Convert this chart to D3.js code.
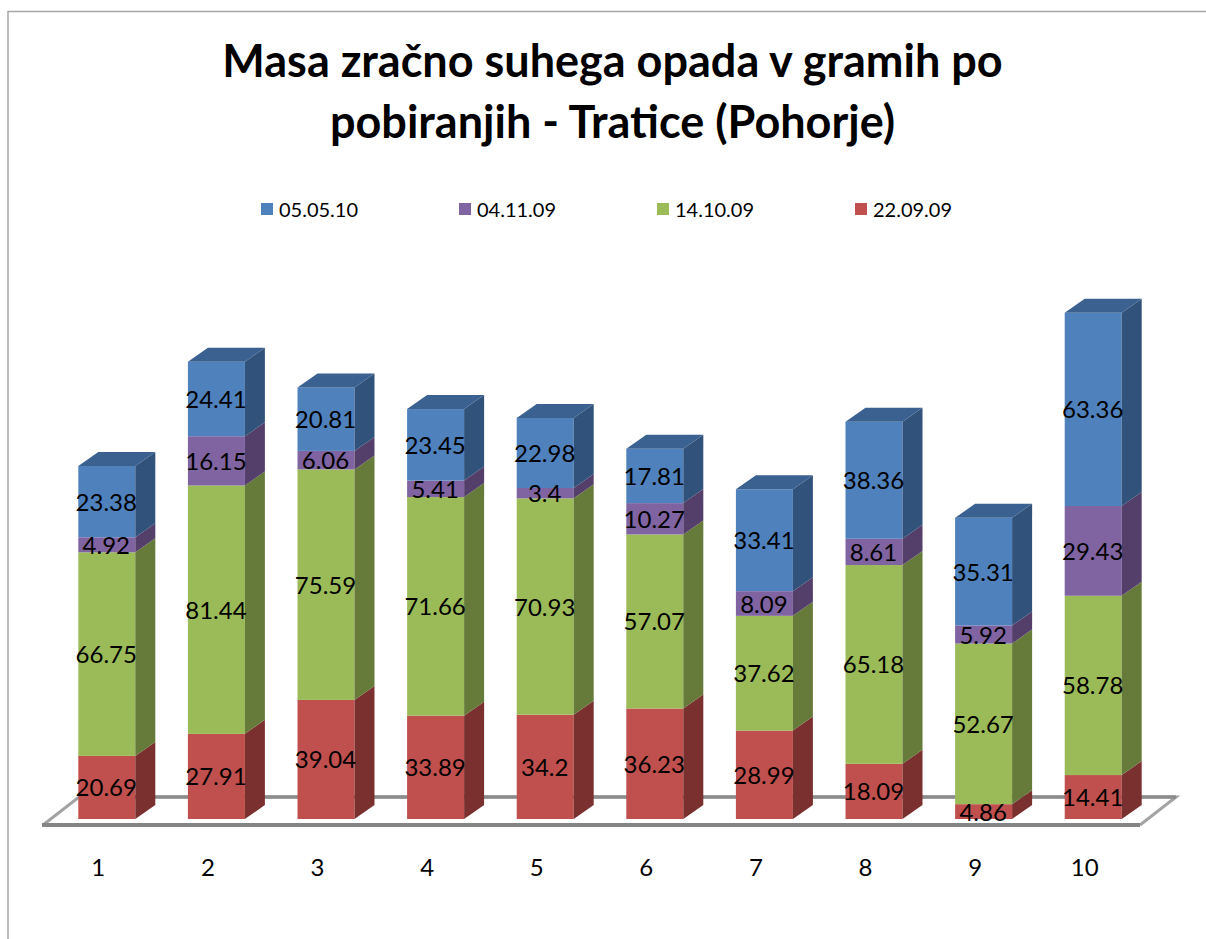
<!DOCTYPE html>
<html><head><meta charset="utf-8">
<script src="https://cdn.jsdelivr.net/npm/d3@7"></script>
<style>html,body{margin:0;padding:0;background:#fff}svg{display:block}text{font-family:Lato,"Open Sans",sans-serif;fill:#000}</style>
</head><body><svg id="c" width="1206" height="939"></svg>
<script>
const categories = ["1","2","3","4","5","6","7","8","9","10"];
const s220909 = [20.69,27.91,39.04,33.89,34.2,36.23,28.99,18.09,4.86,14.41];
const s141009 = [66.75,81.44,75.59,71.66,70.93,57.07,37.62,65.18,52.67,58.78];
const s041109 = [4.92,16.15,6.06,5.41,3.4,10.27,8.09,8.61,5.92,29.43];
const s050510 = [23.38,24.41,20.81,23.45,22.98,17.81,33.41,38.36,35.31,63.36];
const seriesNames = ["22.09.09","14.10.09","04.11.09","05.05.10"];
const seriesValues = [s220909,s141009,s041109,s050510];
const seriesColors = ["#c0504d","#9bbb59","#8064a2","#4f81bd"];
const sideColors = ["#7a302e","#667a3a","#543f6b","#31527a"];
const topColor = "#3a618f";
const titleLines = ["Masa zračno suhega opada v gramih po","pobiranjih - Tratice (Pohorje)"];

const svg = d3.select("#c");
svg.append("path").attr("d","M8,939V11.5H1206").attr("fill","none").attr("stroke","#a6a6a6").attr("stroke-width",1.5);

svg.selectAll("text.t").data(titleLines).join("text").attr("class","t")
  .attr("x",612.5).attr("y",(d,i)=>[77,138][i]).attr("text-anchor","middle")
  .attr("font-size",45).attr("font-weight",700).text(d=>d);

const x = d3.scaleBand().domain(categories).range([52,1148]).paddingInner(0.48).paddingOuter(0.24);
const y = d3.scaleLinear().domain([0,100]).range([819,514]);
const dx = 20, dy = -14;

// floor
const fl = 43, fr = 1140, fy = 825, bx = 36, by = -28;
svg.append("path").attr("d",`M${fl},${fy}L${fl+bx},${fy+by}H${fr+bx}L${fr},${fy}`)
  .attr("fill","#fff").attr("stroke","#a3a3a3").attr("stroke-width",3);
svg.append("path").attr("d",`M${fl-1},${fy}H${fr}`).attr("stroke","#858585").attr("stroke-width",4);
svg.append("path").attr("d",`M${fl+bx},${fy+by}H${fr+bx}`).attr("stroke","#8c8c8c").attr("stroke-width",3.5);

const stack = d3.stack().keys(d3.range(4)).value((d,k)=>seriesValues[k][d])(d3.range(categories.length));
const bars = svg.selectAll("g.b").data(categories).join("g").attr("class","b");
bars.each(function(c,i){
  const g = d3.select(this), X = x(c), W = x.bandwidth();
  stack.forEach((st,k)=>{
    const y0 = y(st[i][0]), y1 = y(st[i][1]);
    g.append("rect").attr("x",X).attr("y",y1).attr("width",W).attr("height",y0-y1).attr("fill",seriesColors[k]);
    g.append("path").attr("d",`M${X+W},${y0}V${y1}l${dx},${dy}V${y0+dy}Z`).attr("fill",sideColors[k]);
    if(k===3) g.append("path").attr("d",`M${X},${y1}l${dx},${dy}H${X+W+dx}l${-dx},${-dy}Z`).attr("fill",topColor);
  });
});
bars.each(function(c,i){
  const g = d3.select(this), X = x(c), W = x.bandwidth();
  stack.forEach((st,k)=>{
    g.append("text").attr("x",X+W/2-0.5).attr("y",y((st[i][0]+st[i][1])/2)+9)
      .attr("text-anchor","middle").attr("font-size",24).text(seriesValues[k][i]);
  });
  g.append("text").attr("x",X+W/2-8.5).attr("y",876)
    .attr("text-anchor","middle").attr("font-size",24).text(c);
});

const legendX = [261,459,657,855];
const order = [3,2,1,0];
const lg = svg.selectAll("g.l").data(order).join("g").attr("class","l")
  .attr("transform",(d,i)=>`translate(${legendX[i]},203)`);
lg.append("rect").attr("width",12).attr("height",12).attr("fill",d=>seriesColors[d]);
lg.append("text").attr("x",18).attr("y",13.5).attr("font-size",20).text(d=>seriesNames[d]);
</script></body></html>
